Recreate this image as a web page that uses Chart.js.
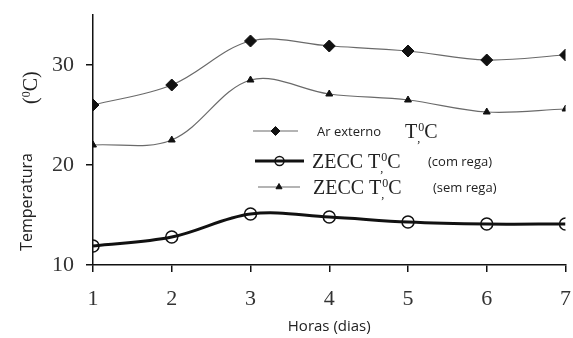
<!DOCTYPE html>
<html>
<head>
<meta charset="utf-8">
<script src="https://cdn.jsdelivr.net/npm/chart.js@4.4.0/dist/chart.umd.min.js"></script>
<style>
  html, body { margin: 0; padding: 0; background: #fff; }
  #wrap { width: 573px; height: 338px; }
</style>
</head>
<body>
<div id="wrap"><canvas id="c" width="573" height="338"></canvas></div>
<script>
// data
const days = [1, 2, 3, 4, 5, 6, 7];
const arExterno = [26.0, 28.0, 32.4, 31.9, 31.4, 30.5, 31.0];
const comRega = [11.9, 12.8, 15.1, 14.8, 14.3, 14.1, 14.1];
const semRega = [22.0, 22.5, 28.5, 27.1, 26.5, 25.3, 25.6];
const yTicks = [10, 20, 30];
const xTicks = [1, 2, 3, 4, 5, 6, 7];

const serif = '"Liberation Serif", "DejaVu Serif", serif';
const sans = '"Open Sans", "Noto Sans", sans-serif';

const toPts = arr => arr.map((v, i) => ({ x: days[i], y: v }));

// T,0C label with the little comma and raised zero
function drawTC(ctx, x, y) {
  ctx.textAlign = 'left';
  ctx.textBaseline = 'alphabetic';
  ctx.font = '20px ' + serif;
  ctx.fillText('T', x, y);
  x += ctx.measureText('T').width;
  ctx.font = '12px ' + serif;
  ctx.fillText(',', x, y + 4);
  ctx.fillText('0', x + 1, y - 7);
  x += ctx.measureText('0').width + 1;
  ctx.font = '20px ' + serif;
  ctx.fillText('C', x, y);
}

const legendRows = [
  { ds: 0, y: 131, x1: 253, x2: 298, r: 4.5, name: 'Ar externo', nameX: 317, tcX: 405, note: null },
  { ds: 1, y: 161, x1: 255, x2: 304, r: 4.5, name: 'ZECC', nameX: 312, tcX: 368, note: '(com rega)', noteX: 428 },
  { ds: 2, y: 187, x1: 258, x2: 300, r: 3.5, name: 'ZECC', nameX: 313, tcX: 369, note: '(sem rega)', noteX: 433 }
];

const extras = {
  id: 'extras',
  afterDraw(chart) {
    const ctx = chart.ctx;
    ctx.save();
    legendRows.forEach(r => {
      const ds = chart.data.datasets[r.ds];
      ctx.strokeStyle = ds.borderColor;
      ctx.lineWidth = ds.borderWidth;
      ctx.beginPath();
      ctx.moveTo(r.x1, r.y);
      ctx.lineTo(r.x2, r.y);
      ctx.stroke();
      ctx.fillStyle = ds.pointBackgroundColor;
      ctx.strokeStyle = ds.pointBorderColor;
      ctx.lineWidth = ds.pointBorderWidth;
      Chart.helpers.drawPoint(ctx, {
        pointStyle: ds.pointStyle,
        radius: r.r,
        rotation: 0,
        borderWidth: ds.pointBorderWidth
      }, (r.x1 + r.x2) / 2, r.y);
      ctx.fillStyle = '#222';
      ctx.textBaseline = 'alphabetic';
      ctx.textAlign = 'left';
      if (r.ds === 0) {
        ctx.font = '13px ' + sans;
        ctx.fillText(r.name, r.nameX, r.y + 5);
      } else {
        ctx.font = '20px ' + serif;
        ctx.fillText(r.name, r.nameX, r.y + 7);
      }
      drawTC(ctx, r.tcX, r.y + 7);
      if (r.note) {
        ctx.font = '13px ' + sans;
        ctx.fillText(r.note, r.noteX, r.y + 5);
      }
    });
    // y title: "Temperatura" and "(0C)" in two fonts
    ctx.fillStyle = '#222';
    ctx.save();
    ctx.translate(27, 202);
    ctx.rotate(-Math.PI / 2);
    ctx.textAlign = 'center';
    ctx.textBaseline = 'middle';
    ctx.font = '16px ' + sans;
    ctx.fillText('Temperatura', 0, 0);
    ctx.restore();
    ctx.save();
    ctx.translate(30, 85);
    ctx.rotate(-Math.PI / 2);
    ctx.textAlign = 'left';
    ctx.textBaseline = 'alphabetic';
    ctx.font = '20px ' + serif;
    let x = -19;
    ctx.fillText('(', x, 7);
    x += ctx.measureText('(').width;
    ctx.font = '12px ' + serif;
    ctx.fillText('0', x, 0);
    x += ctx.measureText('0').width;
    ctx.font = '20px ' + serif;
    ctx.fillText('C)', x, 7);
    ctx.restore();
    ctx.restore();
  }
};

new Chart(document.getElementById('c'), {
  type: 'line',
  data: {
    datasets: [
      {
        label: 'Ar externo T,0C',
        data: toPts(arExterno),
        borderColor: '#6a6a6a',
        borderWidth: 1.2,
        tension: 0.35,
        pointStyle: 'rectRot',
        pointRadius: 6,
        pointBackgroundColor: '#111',
        pointBorderColor: '#111',
        pointBorderWidth: 1
      },
      {
        label: 'ZECC T,0C (com rega)',
        data: toPts(comRega),
        borderColor: '#111',
        borderWidth: 3,
        tension: 0.35,
        pointStyle: 'circle',
        pointRadius: 6,
        pointBackgroundColor: 'rgba(0,0,0,0)',
        pointBorderColor: '#111',
        pointBorderWidth: 1.5
      },
      {
        label: 'ZECC T,0C (sem rega)',
        data: toPts(semRega),
        borderColor: '#6a6a6a',
        borderWidth: 1.2,
        tension: 0.35,
        pointStyle: 'triangle',
        pointRadius: 4,
        pointBackgroundColor: '#111',
        pointBorderColor: '#111',
        pointBorderWidth: 1
      }
    ]
  },
  options: {
    responsive: false,
    animation: false,
    layout: { padding: { top: 15, right: 6, left: 0, bottom: 0 } },
    plugins: { legend: { display: false }, tooltip: { enabled: false } },
    scales: {
      x: {
        type: 'linear',
        min: 1,
        max: 7,
        afterBuildTicks: s => { s.ticks = xTicks.map(v => ({ value: v })); },
        afterFit: s => { s.height = 73; s.paddingLeft = 0; s.paddingRight = 0; },
        grid: { drawOnChartArea: false, tickLength: 7, color: '#111', lineWidth: 1.5 },
        border: { color: '#111', width: 1.5 },
        ticks: { font: { family: serif, size: 22 }, color: '#333', padding: 14 },
        title: { display: true, text: 'Horas (dias)', font: { family: sans, size: 15 }, color: '#222', padding: { top: 0, bottom: 2 } }
      },
      y: {
        min: 10,
        max: 35,
        afterBuildTicks: s => { s.ticks = yTicks.map(v => ({ value: v })); },
        afterFit: s => { s.width = 93; s.paddingTop = 0; s.paddingBottom = 0; },
        grid: { drawOnChartArea: false, tickLength: 7, color: '#111', lineWidth: 1.5 },
        border: { color: '#111', width: 1.5 },
        ticks: { font: { family: serif, size: 22 }, color: '#333', padding: 12 }
      }
    }
  },
  plugins: [extras]
});
</script>
</body>
</html>
